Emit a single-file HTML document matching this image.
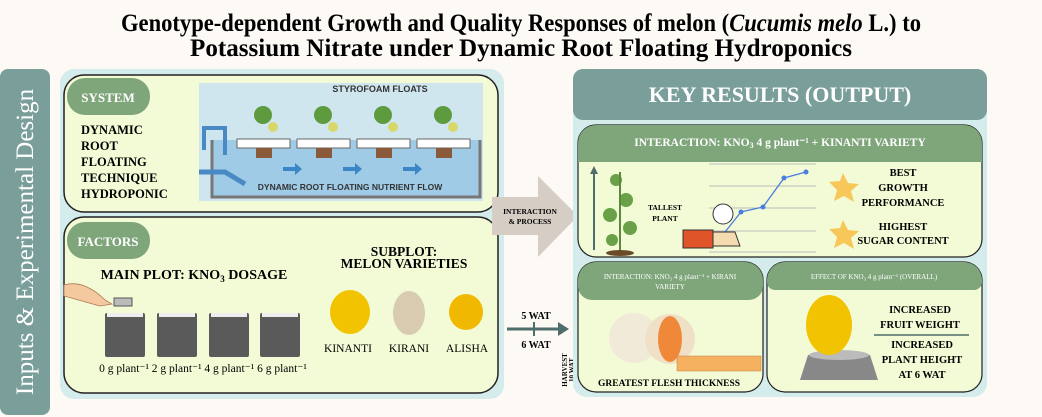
<!DOCTYPE html>
<html><head><meta charset="utf-8"><style>
html,body{margin:0;padding:0;background:#fdf9f5;}
svg{display:block;font-family:"Liberation Serif",serif;}
</style></head><body>
<svg width="1042" height="417" viewBox="0 0 1042 417" xmlns="http://www.w3.org/2000/svg">
<rect width="1042" height="417" fill="#fdf9f5"/>
<!-- Title -->
<text x="521" y="31" font-size="25" font-weight="bold" text-anchor="middle" textLength="800" lengthAdjust="spacingAndGlyphs">Genotype-dependent Growth and Quality Responses of melon (<tspan font-style="italic">Cucumis melo</tspan> L.) to</text>
<text x="521" y="56" font-size="25" font-weight="bold" text-anchor="middle" textLength="662" lengthAdjust="spacingAndGlyphs">Potassium Nitrate under Dynamic Root Floating Hydroponics</text>

<!-- left vertical bar -->
<rect x="0" y="69" width="50" height="346" rx="8" fill="#7a9e9a"/>
<text transform="translate(33,242) rotate(-90)" font-size="25" fill="#fff" text-anchor="middle">Inputs &amp; Experimental Design</text>

<!-- left panel -->
<rect x="60" y="69" width="444" height="330" rx="14" fill="#d5ecec"/>
<rect x="64" y="75" width="434" height="137" rx="20" fill="#f3fbd6" stroke="#222" stroke-width="1.5"/>
<rect x="67" y="78" width="83" height="37" rx="18" fill="#7ea67a"/>
<text x="108" y="102" font-size="13" font-weight="bold" fill="#fff" text-anchor="middle">SYSTEM</text>
<g font-size="12.5" font-weight="bold">
<text x="81" y="134">DYNAMIC</text><text x="81" y="150">ROOT</text><text x="81" y="166">FLOATING</text><text x="81" y="182">TECHNIQUE</text><text x="81" y="198">HYDROPONIC</text>
</g>
<!-- hydroponic illustration -->
<rect x="199" y="83" width="284" height="118" fill="#cfe6ef"/>
<rect x="212" y="140" width="268" height="57" fill="#9fcbe6"/>
<path d="M212 140 V197 H480 V140" fill="none" stroke="#777" stroke-width="3"/>
<path d="M204 150 V128 H225 V155" fill="none" stroke="#4a8ac4" stroke-width="4"/>
<path d="M199 172 H225 L245 184" fill="none" stroke="#4a8ac4" stroke-width="5"/>
<text x="380" y="92" font-size="9" font-family="Liberation Sans,sans-serif" font-weight="bold" fill="#333" text-anchor="middle">STYROFOAM FLOATS</text>
<g>
<rect x="237" y="139" width="53" height="9" fill="#fff" stroke="#666"/>
<rect x="297" y="139" width="53" height="9" fill="#fff" stroke="#666"/>
<rect x="357" y="139" width="53" height="9" fill="#fff" stroke="#666"/>
<rect x="417" y="139" width="53" height="9" fill="#fff" stroke="#666"/>
<g fill="#5e9a3e">
<circle cx="263" cy="115" r="9"/><circle cx="323" cy="115" r="9"/><circle cx="383" cy="115" r="9"/><circle cx="443" cy="115" r="9"/>
</g>
<g fill="#d8d86a"><circle cx="273" cy="127" r="5"/><circle cx="333" cy="127" r="5"/><circle cx="393" cy="127" r="5"/><circle cx="453" cy="127" r="5"/></g>
<g fill="#8a5a3a"><rect x="256" y="148" width="16" height="10"/><rect x="316" y="148" width="16" height="10"/><rect x="376" y="148" width="16" height="10"/><rect x="436" y="148" width="16" height="10"/></g>
<g fill="#3a86c6"><path d="M283 167h12v-4l7 6-7 6v-4h-12z"/><path d="M343 167h12v-4l7 6-7 6v-4h-12z"/><path d="M403 167h12v-4l7 6-7 6v-4h-12z"/></g>
<text x="350" y="190" font-size="8.5" font-family="Liberation Sans,sans-serif" font-weight="bold" fill="#333" text-anchor="middle">DYNAMIC ROOT FLOATING NUTRIENT FLOW</text>
</g>

<!-- factors -->
<rect x="64" y="217" width="434" height="176" rx="20" fill="#f3fbd6" stroke="#222" stroke-width="1.5"/>
<rect x="67" y="222" width="83" height="37" rx="18" fill="#7ea67a"/>
<text x="108" y="246" font-size="13" font-weight="bold" fill="#fff" text-anchor="middle">FACTORS</text>
<text x="194" y="279" font-size="14" font-weight="bold" text-anchor="middle">MAIN PLOT: KNO<tspan font-size="9" dy="3">3</tspan><tspan dy="-3"> DOSAGE</tspan></text>
<path d="M64 285 C80 280 95 290 105 300 L112 304 L100 306 C85 302 72 298 64 296z" fill="#f5c9a0" stroke="#b07a50" stroke-width="0.8"/>
<rect x="114" y="298" width="18" height="8" fill="#bbb" stroke="#555"/>
<g fill="#5a5a5a">
<rect x="105" y="313" width="40" height="44" rx="2"/><rect x="157" y="313" width="40" height="44" rx="2"/><rect x="209" y="313" width="40" height="44" rx="2"/><rect x="260" y="313" width="40" height="44" rx="2"/>
</g>
<g fill="#eee"><rect x="107" y="313" width="36" height="4"/><rect x="159" y="313" width="36" height="4"/><rect x="211" y="313" width="36" height="4"/><rect x="262" y="313" width="36" height="4"/></g>
<text x="203" y="372" font-size="11.5" text-anchor="middle">0 g plant⁻¹ 2 g plant⁻¹ 4 g plant⁻¹ 6 g plant⁻¹</text>
<text x="405" y="198" font-size="0"> </text>
<text x="405" y="199" font-size="0"> </text>
<text x="405" y="199" font-size="0"> </text>
<text x="404" y="256" font-size="13.5" font-weight="bold" text-anchor="middle">SUBPLOT:</text>
<text x="404" y="268" font-size="13.5" font-weight="bold" text-anchor="middle">MELON VARIETIES</text>
<ellipse cx="350" cy="312" rx="20" ry="22" fill="#f2c300"/>
<ellipse cx="409" cy="313" rx="16" ry="22" fill="#d9cbb0"/>
<ellipse cx="466" cy="312" rx="17" ry="18" fill="#f0b800"/>
<g font-size="11.5" text-anchor="middle"><text x="348" y="352">KINANTI</text><text x="409" y="352">KIRANI</text><text x="467" y="352">ALISHA</text></g>

<!-- interaction arrow -->
<path d="M492 197 H538 V176 L578 216 L538 257 V235 H492z" fill="#d6cdc5"/>
<text x="530" y="214" font-size="7.5" font-weight="bold" text-anchor="middle">INTERACTION</text>
<text x="530" y="224" font-size="7.5" font-weight="bold" text-anchor="middle">&amp; PROCESS</text>

<!-- WAT arrow -->
<text x="536" y="319" font-size="10" font-weight="bold" text-anchor="middle">5 WAT</text>
<text x="536" y="348" font-size="10" font-weight="bold" text-anchor="middle">6 WAT</text>
<line x1="507" y1="329" x2="562" y2="329" stroke="#4f6d6b" stroke-width="3"/>
<line x1="534" y1="322" x2="534" y2="336" stroke="#4f6d6b" stroke-width="2"/>
<path d="M558 322 L569 329 L558 336z" fill="#4f6d6b"/>
<text transform="translate(567,370) rotate(-90)" font-size="7" font-weight="bold" text-anchor="middle">HARVEST</text>
<text transform="translate(574,370) rotate(-90)" font-size="7" font-weight="bold" text-anchor="middle">10 WAT</text>

<!-- key results -->
<rect x="573" y="69" width="414" height="328" rx="14" fill="#d5ecec"/>
<rect x="573" y="69" width="414" height="51" rx="10" fill="#7a9e9a"/>
<text x="780" y="102" font-size="22" font-weight="bold" fill="#fff" text-anchor="middle">KEY RESULTS (OUTPUT)</text>

<rect x="578" y="125" width="404" height="132" rx="18" fill="#f3fbd6" stroke="#222" stroke-width="1.2"/>
<path d="M578 143 a18 18 0 0 1 18 -18 H964 a18 18 0 0 1 18 18 V162 H578z" fill="#7ea67a"/>
<text x="780" y="146" font-size="11.5" font-weight="bold" fill="#fff" text-anchor="middle">INTERACTION: KNO<tspan font-size="8" dy="2">3</tspan><tspan dy="-2"> 4 g plant⁻¹ + KINANTI  VARIETY</tspan></text>
<line x1="594" y1="250" x2="594" y2="172" stroke="#4f6d6b" stroke-width="2"/>
<path d="M590 174 L594 166 L598 174z" fill="#4f6d6b"/>
<g fill="#6aa048"><circle cx="616" cy="180" r="6"/><circle cx="626" cy="200" r="7"/><circle cx="610" cy="215" r="7"/><circle cx="630" cy="228" r="7"/><circle cx="612" cy="240" r="6"/></g>
<line x1="620" y1="172" x2="620" y2="252" stroke="#5a8a3a" stroke-width="2"/>
<ellipse cx="620" cy="253" rx="14" ry="3" fill="#6b4a2a"/>
<text x="665" y="210" font-size="7.5" font-weight="bold" text-anchor="middle">TALLEST</text>
<text x="665" y="221" font-size="7.5" font-weight="bold" text-anchor="middle">PLANT</text>
<g stroke="#bbb" stroke-width="1"><line x1="709" y1="164" x2="816" y2="164"/><line x1="709" y1="186" x2="816" y2="186"/><line x1="709" y1="208" x2="816" y2="208"/><line x1="709" y1="231" x2="816" y2="231"/><line x1="709" y1="252" x2="816" y2="252"/></g>
<polyline points="725,232 741,212 763,207 784,178 806,172" fill="none" stroke="#4a7fe0" stroke-width="1.3"/>
<g fill="#4a7fe0"><circle cx="741" cy="212" r="2.5"/><circle cx="763" cy="207" r="2.5"/><circle cx="784" cy="178" r="2.5"/><circle cx="806" cy="172" r="2.5"/></g>
<rect x="683" y="230" width="30" height="18" fill="#e0542a" stroke="#333"/>
<path d="M713 232 H735 L740 246 H713z" fill="#f5dcb0" stroke="#333"/>
<circle cx="723" cy="214" r="10" fill="#fff" stroke="#333"/>
<g fill="#f7c75a"><path d="M843 173 l5 10 11 1 -8 7 3 11 -10 -6 -10 5 3 -11 -8 -8 11 -1z"/><path d="M843 220 l5 10 11 1 -8 7 3 11 -10 -6 -10 5 3 -11 -8 -8 11 -1z"/></g>
<g font-size="10.5" font-weight="bold" text-anchor="middle"><text x="903" y="176">BEST</text><text x="903" y="191">GROWTH</text><text x="903" y="206">PERFORMANCE</text><text x="903" y="230">HIGHEST</text><text x="903" y="244">SUGAR CONTENT</text></g>

<rect x="578" y="262" width="185" height="130" rx="18" fill="#f3fbd6" stroke="#222" stroke-width="1.2"/>
<path d="M578 280 a18 18 0 0 1 18 -18 H745 a18 18 0 0 1 18 18 V286 a14 14 0 0 1 -14 14 H592 a14 14 0 0 1 -14 -14z" fill="#7ea67a"/>
<text x="670" y="279" font-size="7" fill="#fff" text-anchor="middle">INTERACTION: KNO₃ 4 g plant⁻¹ + KIRANI</text>
<text x="670" y="289" font-size="7" fill="#fff" text-anchor="middle">VARIETY</text>
<circle cx="634" cy="338" r="25" fill="#f2ead8"/>
<circle cx="670" cy="339" r="25" fill="#f0e0c8"/>
<ellipse cx="670" cy="339" rx="12" ry="23" fill="#f0883a"/>
<rect x="677" y="356" width="84" height="15" fill="#f5b060" stroke="#c08040" stroke-width="0.5"/>
<text x="669" y="386" font-size="9.5" font-weight="bold" text-anchor="middle">GREATEST FLESH THICKNESS</text>

<rect x="767" y="262" width="215" height="130" rx="18" fill="#f3fbd6" stroke="#222" stroke-width="1.2"/>
<path d="M767 280 a18 18 0 0 1 18 -18 H964 a18 18 0 0 1 18 18 V282 a8 8 0 0 1 -8 8 H775 a8 8 0 0 1 -8 -8z" fill="#7ea67a"/>
<text x="874" y="279" font-size="7" fill="#fff" text-anchor="middle">EFFECT OF KNO₃ 4 g plant⁻¹ (OVERALL)</text>
<path d="M800 380 L808 355 H870 L878 380z" fill="#888"/>
<ellipse cx="839" cy="355" rx="30" ry="5" fill="#bbb"/>
<ellipse cx="829" cy="325" rx="23" ry="30" fill="#f2c300"/>
<g font-size="10.5" font-weight="bold" text-anchor="middle"><text x="920" y="313">INCREASED</text><text x="920" y="328">FRUIT WEIGHT</text><text x="922" y="348">INCREASED</text><text x="922" y="363">PLANT HEIGHT</text><text x="922" y="378">AT 6 WAT</text></g>
<line x1="874" y1="335" x2="969" y2="335" stroke="#4f6d6b" stroke-width="1.5"/>
</svg>
</body></html>
